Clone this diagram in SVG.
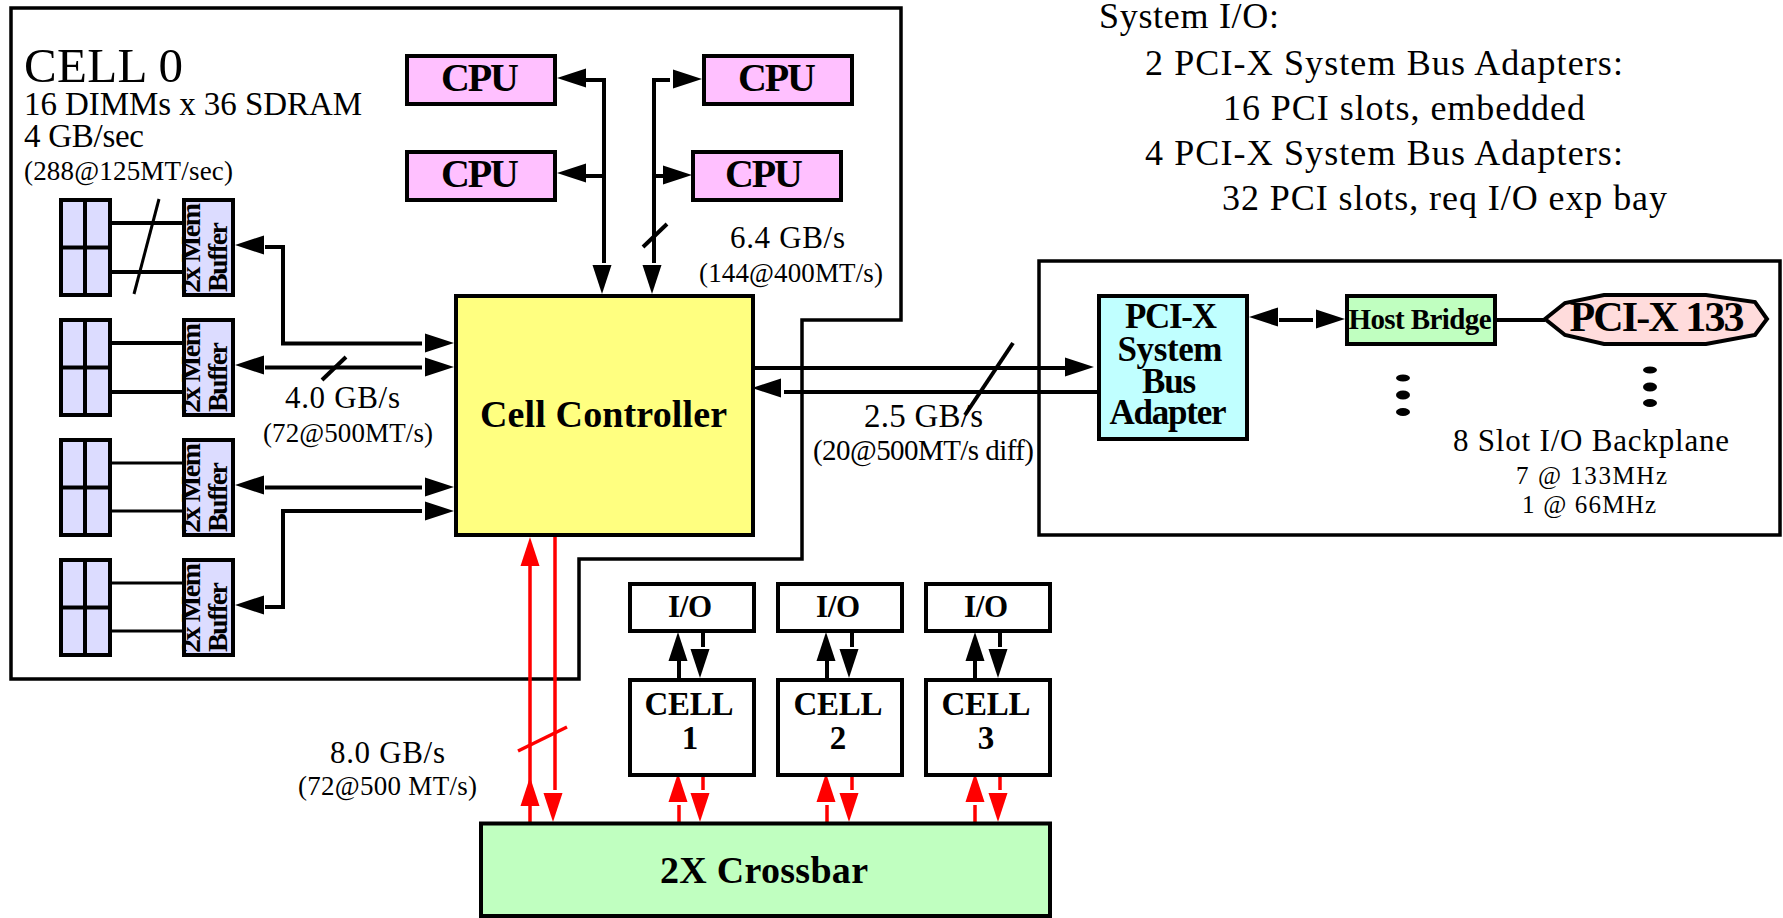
<svg xmlns="http://www.w3.org/2000/svg" width="1783" height="918" viewBox="0 0 1783 918">
<style>
text{font-family:"Liberation Serif","Times New Roman",serif;fill:#000}
.b{font-weight:bold}
.m{text-anchor:middle}
.box{stroke:#000;stroke-width:4;fill:#fff}
.cpu{fill:#ffc0ff}.dimm{fill:#dcdcff}.cc{fill:#ffff80}.xb{fill:#c0ffc0}.adp{fill:#c0ffff}.slot{fill:#ffdcdc}
.k{stroke:#000;stroke-width:4;fill:none}
.k3{stroke:#000;stroke-width:3;fill:none}
.r{stroke:#f00;stroke-width:3.5;fill:none}
.hk{fill:#000}.hr{fill:#f00}
.t40{font-size:40px}
.t35{font-size:35px}
.t33{font-size:33px}
.t31{font-size:31px}
.t28{font-size:28px}
</style>
<defs>
<polygon id="ah" points="0,0 -29,-9.5 -29,9.5"/>
<g id="dimm"><rect class="box dimm" x="61" y="0" width="49" height="95"/><path class="k" d="M85 0V95M61 47.500H110"/></g>
<g id="buf"><rect class="box dimm" x="184" y="0" width="49" height="95"/></g>
</defs>

<g id="cell0-frame"><path d="M11 8H901V320H802V559H579V679H11Z" fill="none" stroke="#000" stroke-width="3.500"/></g>
<g id="backplane-frame"><rect x="1039" y="261" width="741" height="274" fill="none" stroke="#000" stroke-width="3.500"/></g>

<g id="connectors">
<g id="memory-links">
<path class="k" d="M112 223H184M112 272H184M112 343H184M112 392H184"/>
<path class="k3" d="M112 463H184M112 511H184M112 583H184M112 631H184"/>
<path class="k3" d="M159 199L134 294"/>
<path class="k" d="M265 247H283V343.500H422M265 367.500H422M265 487.500H422M422 511H283V607H265"/>
<path class="k" d="M346 357L322 380"/>
<use href="#ah" class="hk" transform="translate(235 245) rotate(180)"/>
<use href="#ah" class="hk" transform="translate(235 365) rotate(180)"/>
<use href="#ah" class="hk" transform="translate(235 485) rotate(180)"/>
<use href="#ah" class="hk" transform="translate(235 605) rotate(180)"/>
<use href="#ah" class="hk" transform="translate(454 343)"/>
<use href="#ah" class="hk" transform="translate(454 367)"/>
<use href="#ah" class="hk" transform="translate(454 487)"/>
<use href="#ah" class="hk" transform="translate(454 511)"/>
</g>
<g id="cpu-links">
<path class="k" d="M586 80H604V263M586 176H604M654 263V80H670M654 176H670M667 224L643 247"/>
<use href="#ah" class="hk" transform="translate(557 78) rotate(180)"/>
<use href="#ah" class="hk" transform="translate(557 173) rotate(180)"/>
<use href="#ah" class="hk" transform="translate(702 79)"/>
<use href="#ah" class="hk" transform="translate(692 175)"/>
<use href="#ah" class="hk" transform="translate(602 294) rotate(90)"/>
<use href="#ah" class="hk" transform="translate(652 294) rotate(90)"/>
</g>
<g id="io-links">
<path class="k" d="M754 368H1065M1097 392H784"/>
<use href="#ah" class="hk" transform="translate(1094 367)"/>
<use href="#ah" class="hk" transform="translate(752 388) rotate(180)"/>
<path class="k" d="M1279 320H1313M1497 320H1545"/>
<use href="#ah" class="hk" transform="translate(1249 317) rotate(180)"/>
<use href="#ah" class="hk" transform="translate(1345 319)"/>
</g>
<g id="crossbar-links">
<path class="r" d="M530 822V566M555 537V790" />
<path d="M518 751L567 727" class="r" stroke-width="3"/>
<use href="#ah" class="hr" transform="translate(530 537) rotate(-90)"/>
<use href="#ah" class="hr" transform="translate(530 777) rotate(-90)"/>
<use href="#ah" class="hr" transform="translate(553 822) rotate(90)"/>
<path class="r" d="M679 805V822M703 777V790M827 805V822M852 777V790M975 805V822M1000 777V790"/>
<use href="#ah" class="hr" transform="translate(678 773) rotate(-90)"/>
<use href="#ah" class="hr" transform="translate(700 822) rotate(90)"/>
<use href="#ah" class="hr" transform="translate(826 773) rotate(-90)"/>
<use href="#ah" class="hr" transform="translate(849 822) rotate(90)"/>
<use href="#ah" class="hr" transform="translate(975 773) rotate(-90)"/>
<use href="#ah" class="hr" transform="translate(998 822) rotate(90)"/>
<path class="k" d="M679 661V678M703 633V647M827 661V678M852 633V647M975 661V678M1000 633V647"/>
<use href="#ah" class="hk" transform="translate(678 632) rotate(-90)"/>
<use href="#ah" class="hk" transform="translate(700 678) rotate(90)"/>
<use href="#ah" class="hk" transform="translate(826 632) rotate(-90)"/>
<use href="#ah" class="hk" transform="translate(849 678) rotate(90)"/>
<use href="#ah" class="hk" transform="translate(975 632) rotate(-90)"/>
<use href="#ah" class="hk" transform="translate(998 678) rotate(90)"/>
</g>
</g>

<g id="dimm-0"><use href="#dimm" y="200"/></g>
<g id="dimm-1"><use href="#dimm" y="320"/></g>
<g id="dimm-2"><use href="#dimm" y="440"/></g>
<g id="dimm-3"><use href="#dimm" y="560"/></g>
<g id="buffer-0"><use href="#buf" y="200"/><text class="b t28" transform="translate(200 293) rotate(-90)" textLength="90">2x Mem</text><text class="b t28" transform="translate(227 292) rotate(-90)" textLength="70">Buffer</text></g>
<g id="buffer-1"><use href="#buf" y="320"/><text class="b t28" transform="translate(200 413) rotate(-90)" textLength="90">2x Mem</text><text class="b t28" transform="translate(227 412) rotate(-90)" textLength="70">Buffer</text></g>
<g id="buffer-2"><use href="#buf" y="440"/><text class="b t28" transform="translate(200 533) rotate(-90)" textLength="90">2x Mem</text><text class="b t28" transform="translate(227 532) rotate(-90)" textLength="70">Buffer</text></g>
<g id="buffer-3"><use href="#buf" y="560"/><text class="b t28" transform="translate(200 653) rotate(-90)" textLength="90">2x Mem</text><text class="b t28" transform="translate(227 652) rotate(-90)" textLength="70">Buffer</text></g>

<g id="cpu-0"><rect class="box cpu" x="407" y="56" width="148" height="48"/><text class="b t40 m" x="480" y="91" textLength="78">CPU</text></g>
<g id="cpu-1"><rect class="box cpu" x="407" y="152" width="148" height="48"/><text class="b t40 m" x="480" y="187" textLength="78">CPU</text></g>
<g id="cpu-2"><rect class="box cpu" x="704" y="56" width="148" height="48"/><text class="b t40 m" x="777" y="91" textLength="78">CPU</text></g>
<g id="cpu-3"><rect class="box cpu" x="693" y="152" width="148" height="48"/><text class="b t40 m" x="764" y="187" textLength="78">CPU</text></g>

<g id="cell-controller"><rect class="box cc" x="456" y="296" width="297" height="239"/><text class="b" font-size="38" x="480" y="427" textLength="247">Cell Controller</text></g>

<g id="pci-x-adapter"><rect class="box adp" x="1099" y="296" width="148" height="143"/>
<text class="b t35 m" x="1171" y="328" textLength="92">PCI-X</text>
<text class="b t35 m" x="1170" y="361" textLength="105">System</text>
<text class="b t35 m" x="1169" y="393" textLength="54">Bus</text>
<text class="b t35 m" x="1168" y="424" textLength="117">Adapter</text></g>
<g id="host-bridge"><rect class="box xb" x="1347" y="296" width="148" height="48"/><text class="b m" font-size="29" x="1420" y="329" textLength="143">Host Bridge</text></g>
<g id="pci-x-133"><path class="box slot" d="M1545 319L1565 303L1604 295H1706L1755 302L1767 319L1755 335L1706 344H1604L1565 335Z"/><text class="b m" font-size="42" x="1657" y="331" textLength="175">PCI-X 133</text></g>
<g id="dots">
<ellipse cx="1403" cy="378" rx="7" ry="3.500"/><ellipse cx="1403" cy="395" rx="7" ry="4.500"/><ellipse cx="1403" cy="412" rx="7" ry="4"/>
<ellipse cx="1650" cy="370" rx="7" ry="3.500"/><ellipse cx="1650" cy="387" rx="7" ry="4.500"/><ellipse cx="1650" cy="403" rx="7" ry="4"/>
</g>

<g id="io-1"><rect class="box" x="630" y="584" width="124" height="47"/><text class="b t31 m" x="690" y="617" textLength="44">I/O</text></g>
<g id="io-2"><rect class="box" x="778" y="584" width="124" height="47"/><text class="b t31 m" x="838" y="617" textLength="44">I/O</text></g>
<g id="io-3"><rect class="box" x="926" y="584" width="124" height="47"/><text class="b t31 m" x="986" y="617" textLength="44">I/O</text></g>
<g id="cell-1"><rect class="box" x="630" y="680" width="124" height="95"/><text class="b t33 m" x="689" y="715" textLength="89">CELL</text><text class="b t33 m" x="690" y="749">1</text></g>
<g id="cell-2"><rect class="box" x="778" y="680" width="124" height="95"/><text class="b t33 m" x="838" y="715" textLength="89">CELL</text><text class="b t33 m" x="838" y="749">2</text></g>
<g id="cell-3"><rect class="box" x="926" y="680" width="124" height="95"/><text class="b t33 m" x="986" y="715" textLength="89">CELL</text><text class="b t33 m" x="986" y="749">3</text></g>
<g id="crossbar"><rect class="box xb" x="481" y="823.500" width="569" height="92.500"/><text class="b m" font-size="38" x="764" y="883" textLength="208">2X Crossbar</text></g>

<g id="labels">
<text font-size="49" x="24" y="82" textLength="159">CELL 0</text>
<text class="t33" x="24" y="115" textLength="338">16 DIMMs x 36 SDRAM</text>
<text class="t33" x="24" y="147" textLength="120">4 GB/sec</text>
<text font-size="27" x="24" y="180" textLength="209">(288@125MT/sec)</text>
<text font-size="31" x="730" y="248" textLength="115">6.4 GB/s</text>
<text font-size="27" x="699" y="282" textLength="184">(144@400MT/s)</text>
<text font-size="31" x="285" y="408" textLength="115">4.0 GB/s</text>
<text font-size="27" x="263" y="442" textLength="170">(72@500MT/s)</text>
<text font-size="33" x="864" y="427" textLength="119">2.5 GB/s</text>
<text font-size="29" x="813" y="460" textLength="221">(20@500MT/s diff)</text>
<text font-size="31" x="330" y="763" textLength="115">8.0 GB/s</text>
<text font-size="27" x="298" y="795" textLength="179">(72@500 MT/s)</text>
<text font-size="31" x="1453" y="451" textLength="276">8 Slot I/O Backplane</text>
<text font-size="25" x="1516" y="484" textLength="151">7 @ 133MHz</text>
<text font-size="25" x="1522" y="513" textLength="134">1 @ 66MHz</text>
<text font-size="36" x="1099" y="28" textLength="180">System I/O:</text>
<text font-size="36" x="1145" y="75" textLength="478">2 PCI-X System Bus Adapters:</text>
<text font-size="36" x="1223" y="120" textLength="362">16 PCI slots, embedded</text>
<text font-size="36" x="1145" y="165" textLength="478">4 PCI-X System Bus Adapters:</text>
<text font-size="36" x="1222" y="210" textLength="445">32 PCI slots, req I/O exp bay</text>
</g>
<path class="k" d="M1013 343L965 415"/>
</svg>
